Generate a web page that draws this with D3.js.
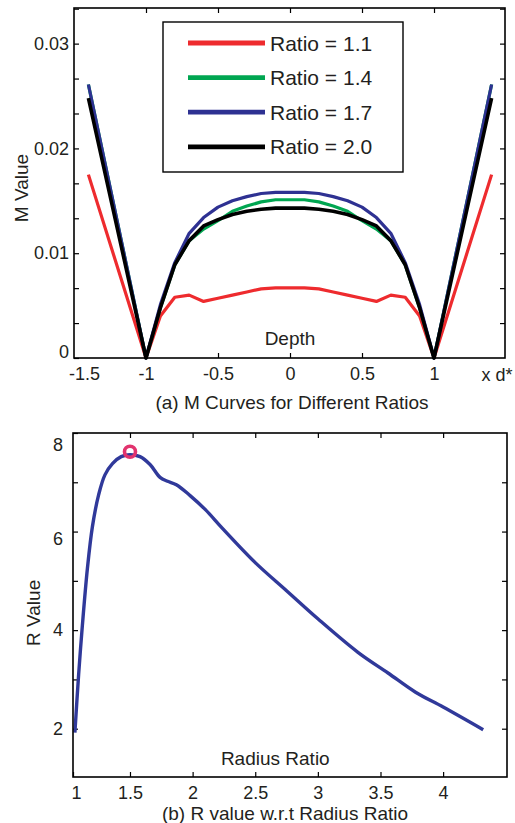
<!DOCTYPE html>
<html>
<head>
<meta charset="utf-8">
<script src="https://cdn.jsdelivr.net/npm/d3@7"></script>
<style>
body { margin: 0; background: #fff; }
text { font-family: "Liberation Sans", Arial, sans-serif; fill: #231f20; }
</style>
</head>
<body>
<script>
// chart (a): M curves, symmetric about depth 0
const depth = [-1.4, -1, -0.9, -0.8, -0.7, -0.6, -0.5, -0.4, -0.3, -0.2, -0.1, 0,
  0.1, 0.2, 0.3, 0.4, 0.5, 0.6, 0.7, 0.8, 0.9, 1, 1.4];
const m11 = [0.0175, 0, 0.0040, 0.0058, 0.0060, 0.0054, 0.0057, 0.0060, 0.0063, 0.0066, 0.0067, 0.0067,
  0.0067, 0.0066, 0.0063, 0.0060, 0.0057, 0.0054, 0.0060, 0.0058, 0.0040, 0, 0.0175];
const m14 = [0.0261, 0, 0.0048, 0.0089, 0.0112, 0.0123, 0.0131, 0.0140, 0.0145, 0.0149, 0.0151, 0.0151,
  0.0151, 0.0149, 0.0145, 0.0140, 0.0131, 0.0123, 0.0112, 0.0089, 0.0048, 0, 0.0261];
const m17 = [0.0261, 0, 0.0051, 0.0091, 0.0119, 0.0134, 0.0144, 0.0150, 0.0154, 0.0157, 0.0158, 0.0158,
  0.0158, 0.0157, 0.0154, 0.0150, 0.0144, 0.0134, 0.0119, 0.0091, 0.0051, 0, 0.0261];
const m20 = [0.0248, 0, 0.0048, 0.0089, 0.0112, 0.0126, 0.0132, 0.0137, 0.0140, 0.0142, 0.0143, 0.0143,
  0.0143, 0.0142, 0.0140, 0.0137, 0.0132, 0.0126, 0.0112, 0.0089, 0.0048, 0, 0.0248];
const seriesNames = ["Ratio = 1.1", "Ratio = 1.4", "Ratio = 1.7", "Ratio = 2.0"];
const seriesColors = ["#ee2b2e", "#00a651", "#2e3192", "#000000"];
const xTicksA = [-1.5, -1, -0.5, 0, 0.5, 1];
const yTicksA = [0, 0.01, 0.02, 0.03];

// chart (b): R value vs radius ratio
const ratio = [1.06, 1.09, 1.12, 1.16, 1.2, 1.25, 1.3, 1.36, 1.43, 1.5, 1.58, 1.66, 1.74, 1.80,
  1.87, 1.98, 2.1, 2.24, 2.5, 2.75, 3.0, 3.32, 3.56, 3.78, 4.0, 4.32];
const rValue = [1.92, 3.1, 4.1, 5.25, 6.1, 6.75, 7.15, 7.38, 7.52, 7.56, 7.52, 7.36, 7.10, 7.02,
  6.95, 6.73, 6.45, 6.06, 5.37, 4.8, 4.23, 3.55, 3.13, 2.74, 2.44, 1.98];
const peak = [1.5, 7.62];
const xTicksB = [1.5, 2, 2.5, 3, 3.5, 4];
const yTicksB = [2, 4, 6, 8];

const svg = d3.select("body").append("svg")
  .attr("width", 515)
  .attr("height", 823);

function frame(g, w, h) {
  g.append("rect")
    .attr("width", w).attr("height", h)
    .attr("fill", "none")
    .attr("stroke", "#000")
    .attr("stroke-width", 1.6);
}

function cleanAxis(sel) {
  sel.select(".domain").remove();
  sel.selectAll(".tick line").attr("stroke", "#000").attr("stroke-width", 1.2);
  sel.selectAll("text").attr("font-size", 18).style("fill", "#231f20")
    .attr("font-family", "Liberation Sans, Arial, sans-serif");
}

// ---------- (a) ----------
const wA = 431, hA = 350;
const gA = svg.append("g").attr("transform", "translate(74,8)");
const xA = d3.scaleLinear().domain([-1.5, 1.493]).range([0, wA]);
const yA = d3.scaleLinear().domain([0, 0.0334]).range([hA, 0]);
const minorA = d3.range(0, 0.0334, 0.01 / 3);

gA.append("g").attr("transform", `translate(0,${hA})`)
  .call(d3.axisBottom(xA).tickValues(xTicksA).tickSize(-5).tickPadding(9)
    .tickFormat(d => d))
  .call(cleanAxis)
  .call(s => s.selectAll(".tick").filter(d => d === -1.5).select("line").remove())
  .call(s => s.selectAll(".tick").filter(d => d === -1.5).select("text").attr("dx", 10));
gA.append("g")
  .call(d3.axisTop(xA).tickValues(xTicksA.slice(1)).tickSize(-5).tickFormat(""))
  .call(cleanAxis);
gA.append("g")
  .call(d3.axisLeft(yA).tickValues(minorA).tickSize(-5).tickPadding(5)
    .tickFormat(d => yTicksA.some(t => Math.abs(t - d) < 1e-6) ? d3.format(".2f")(d).replace("0.00", "0") : ""))
  .call(cleanAxis)
  .call(s => s.selectAll(".tick text").filter(d => d === 0).attr("dy", "-0.05em"));
gA.append("g").attr("transform", `translate(${wA},0)`)
  .call(d3.axisRight(yA).tickValues(minorA.slice(1)).tickSize(-5).tickFormat(""))
  .call(cleanAxis);

const lineA = d3.line().x(d => xA(d[0])).y(d => yA(d[1]));
const allSeries = [m11, m14, m17, m20];
allSeries.forEach((vals, i) => {
  gA.append("path")
    .datum(depth.map((x, j) => [x, vals[j]]))
    .attr("d", lineA)
    .attr("fill", "none")
    .attr("stroke", seriesColors[i])
    .attr("stroke-width", i === 3 ? 3.6 : 3.2)
    .attr("stroke-linejoin", "round");
});
frame(gA, wA, hA);

// legend
const leg = gA.append("g").attr("transform", "translate(89,14)");
leg.append("rect").attr("width", 240).attr("height", 150)
  .attr("fill", "#fff").attr("stroke", "#000").attr("stroke-width", 1.4);
seriesNames.forEach((name, i) => {
  const yy = 21 + i * 34.6;
  leg.append("line").attr("x1", 25).attr("x2", 102).attr("y1", yy).attr("y2", yy)
    .attr("stroke", seriesColors[i]).attr("stroke-width", 4.8);
  leg.append("text").attr("x", 107).attr("y", yy).attr("dy", "0.36em")
    .attr("font-size", 21).text(name);
});

gA.append("text").attr("x", xA(0)).attr("y", hA - 20).attr("dy", "0.36em")
  .attr("text-anchor", "middle").attr("font-size", 19).text("Depth");
gA.append("text").attr("x", wA - 8).attr("y", hA + 17).attr("dy", "0.36em")
  .attr("text-anchor", "middle").attr("font-size", 18).text("x d*");
gA.append("text").attr("transform", `translate(-53,${hA / 2 + 5}) rotate(-90)`)
  .attr("dy", "0.36em").attr("text-anchor", "middle").attr("font-size", 19).text("M Value");
svg.append("text").attr("x", 292).attr("y", 402).attr("dy", "0.36em")
  .attr("text-anchor", "middle").attr("font-size", 19).text("(a) M Curves for Different Ratios");

// ---------- (b) ----------
const wB = 434, hB = 344;
const gB = svg.append("g").attr("transform", "translate(73,433)");
const xB = d3.scaleLinear().domain([1.045, 4.51]).range([0, wB]);
const yB = d3.scaleLinear().domain([1.02, 8]).range([hB, 0]);
const minorB = d3.range(2, 8.5, 1);

gB.append("g").attr("transform", `translate(0,${hB})`)
  .call(d3.axisBottom(xB).tickValues([xB.domain()[0]].concat(xTicksB)).tickSize(-5).tickPadding(9)
    .tickFormat(d => d < 1.5 ? "1" : d))
  .call(cleanAxis)
  .call(s => s.selectAll(".tick").filter(d => d < 1.5).select("text").attr("dx", 3));
gB.append("g")
  .call(d3.axisTop(xB).tickValues(xTicksB).tickSize(-5).tickFormat(""))
  .call(cleanAxis);
gB.append("g")
  .call(d3.axisLeft(yB).tickValues(minorB).tickSize(-5).tickPadding(10)
    .tickFormat(d => yTicksB.includes(d) ? d : ""))
  .call(cleanAxis)
  .call(s => s.selectAll(".tick text").filter(d => d === 8).attr("dy", "0.95em"))
  .call(s => s.selectAll(".tick text").filter(d => d === 6).attr("dy", "0.7em"));
gB.append("g").attr("transform", `translate(${wB},0)`)
  .call(d3.axisRight(yB).tickValues(minorB.slice(0, -1)).tickSize(-5).tickFormat(""))
  .call(cleanAxis);

const lineB = d3.line().x(d => xB(d[0])).y(d => yB(d[1])).curve(d3.curveCatmullRom.alpha(0.5));
gB.append("path")
  .datum(ratio.map((x, j) => [x, rValue[j]]))
  .attr("d", lineB)
  .attr("fill", "none")
  .attr("stroke", "#30399a")
  .attr("stroke-width", 3.4)
  .attr("stroke-linejoin", "round");
gB.append("circle")
  .attr("cx", xB(peak[0])).attr("cy", yB(peak[1])).attr("r", 5.5)
  .attr("fill", "none").attr("stroke", "#e2336e").attr("stroke-width", 3.6);
frame(gB, wB, hB);

gB.append("text").attr("x", xB(2.66)).attr("y", hB - 19).attr("dy", "0.36em")
  .attr("text-anchor", "middle").attr("font-size", 19).text("Radius Ratio");
gB.append("text").attr("transform", `translate(-40,${yB(4.35)}) rotate(-90)`)
  .attr("dy", "0.36em").attr("text-anchor", "middle").attr("font-size", 19).text("R Value");
svg.append("text").attr("x", 285).attr("y", 813).attr("dy", "0.36em")
  .attr("text-anchor", "middle").attr("font-size", 19).text("(b) R value w.r.t Radius Ratio");
</script>
</body>
</html>
